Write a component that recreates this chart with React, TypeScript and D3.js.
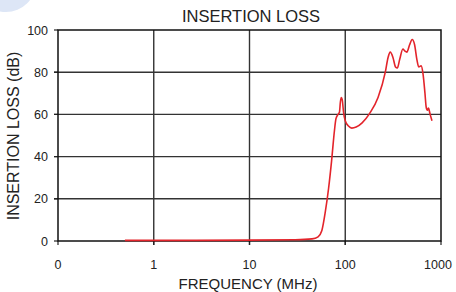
import React from "react";
import * as d3 from "d3";

// frequency (MHz) and insertion loss (dB)
const freqMHz = [
  0.5, 1, 10, 30, 45, 52, 57, 62, 67, 72, 77, 80, 84, 87, 89, 91, 93, 96, 100,
  108, 117, 130, 150, 180, 220, 262, 280, 295, 315, 335, 350, 370, 400, 420,
  440, 470, 500, 530, 560, 585, 620, 650, 680, 700, 720, 740, 770, 805,
];
const lossDb = [
  0.3, 0.3, 0.4, 0.6, 1.0, 2, 5, 14, 25, 38, 52, 58, 60, 61, 66, 68, 67, 61, 57,
  54.5, 53.5, 54, 56, 60.5, 68, 80, 87, 89.5, 87, 82.5, 82, 86, 91, 90, 89.5,
  93, 95.5, 93, 86, 82.5, 83, 79, 70, 63.5, 62, 63, 60, 57,
];

const xTicks = [0.1, 1, 10, 100, 1000];
const xTickLabels = ["0", "1", "10", "100", "1000"];
const yTicks = [0, 20, 40, 60, 80, 100];

const W = 456;
const H = 292;
const m = { left: 58, right: 441, top: 30, bottom: 241 };
const font = "'Liberation Sans', Arial, Helvetica, sans-serif";

export default function App() {
  const x = d3.scaleLog().domain([0.1, 1000]).range([m.left, m.right]);
  const y = d3.scaleLinear().domain([0, 100]).range([m.bottom, m.top]);

  const pts = freqMHz.map((f, i) => [f, lossDb[i]] as [number, number]);
  const line = d3
    .line<[number, number]>()
    .x((d) => x(d[0]))
    .y((d) => y(d[1]))
    .curve(d3.curveMonotoneX);

  return (
    <svg
      width={W}
      height={H}
      style={{ position: "fixed", left: 0, top: 0, background: "#fff" }}
    >
      <circle cx={6} cy={-18} r={30} fill="#dde6f6" />
      <text
        x={251}
        y={21.7}
        textAnchor="middle"
        fontFamily={font}
        fontSize={16.5}
        fill="#222"
      >
        INSERTION LOSS
      </text>

      {/* grid */}
      {xTicks.slice(1, -1).map((t) => (
        <line
          key={"gx" + t}
          x1={x(t)}
          x2={x(t)}
          y1={m.top}
          y2={m.bottom + 4}
          stroke="#333"
          strokeWidth={1.4}
        />
      ))}
      {yTicks.slice(1, -1).map((t) => (
        <line
          key={"gy" + t}
          x1={m.left - 4}
          x2={m.right}
          y1={y(t)}
          y2={y(t)}
          stroke="#333"
          strokeWidth={1.4}
        />
      ))}
      {/* outer ticks */}
      {yTicks.map((t) => (
        <line
          key={"ty" + t}
          x1={m.left - 4}
          x2={m.left}
          y1={y(t)}
          y2={y(t)}
          stroke="#222"
          strokeWidth={1.2}
        />
      ))}
      {xTicks.map((t) => (
        <line
          key={"tx" + t}
          x1={x(t)}
          x2={x(t)}
          y1={m.bottom}
          y2={m.bottom + 4}
          stroke="#222"
          strokeWidth={1.2}
        />
      ))}
      <rect
        x={m.left}
        y={m.top}
        width={m.right - m.left}
        height={m.bottom - m.top}
        fill="none"
        stroke="#111"
        strokeWidth={1.5}
      />

      <path d={line(pts) ?? ""} fill="none" stroke="#e3242b" strokeWidth={1.6} />

      {yTicks.map((t) => (
        <text
          key={"ly" + t}
          x={48}
          y={y(t) + 4.5}
          textAnchor="end"
          fontFamily={font}
          fontSize={12.5}
          fill="#222"
        >
          {t}
        </text>
      ))}
      {xTicks.map((t, i) => (
        <text
          key={"lx" + t}
          x={i === xTicks.length - 1 ? x(t) - 3 : x(t)}
          y={269.3}
          textAnchor="middle"
          fontFamily={font}
          fontSize={12.5}
          fill="#222"
        >
          {xTickLabels[i]}
        </text>
      ))}
      <text
        x={248}
        y={289.3}
        textAnchor="middle"
        fontFamily={font}
        fontSize={15}
        fill="#222"
      >
        FREQUENCY (MHz)
      </text>
      <text
        transform={`translate(18.5,136) rotate(-90)`}
        textAnchor="middle"
        fontFamily={font}
        fontSize={16}
        fill="#222"
      >
        INSERTION LOSS (dB)
      </text>
    </svg>
  );
}
